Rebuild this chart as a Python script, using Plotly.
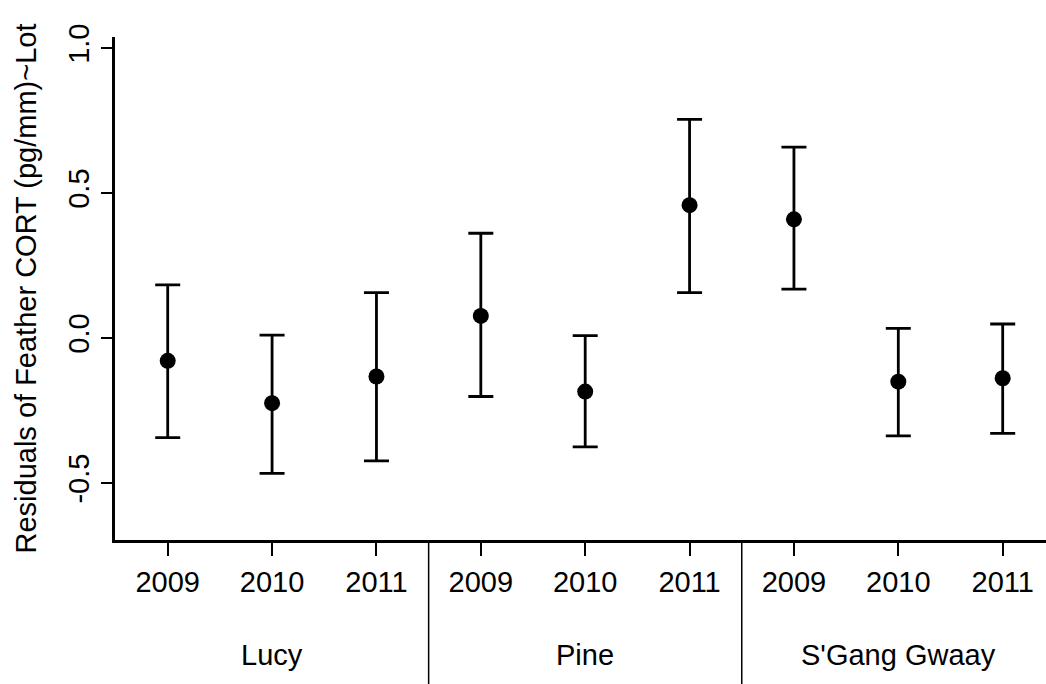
import plotly.graph_objects as go

sites = ["Lucy", "Pine", "S'Gang Gwaay"]
years = ["2009", "2010", "2011"]
means = [-0.079, -0.225, -0.133, 0.076, -0.185, 0.458, 0.409, -0.151, -0.139]
upper = [0.183, 0.010, 0.156, 0.361, 0.008, 0.754, 0.658, 0.033, 0.048]
lower = [-0.344, -0.467, -0.424, -0.202, -0.376, 0.156, 0.168, -0.338, -0.329]
ytick_vals = [-0.5, 0.0, 0.5, 1.0]
ytick_text = ["-0.5", "0.0", "0.5", "1.0"]

n_years = len(years)
xs = list(range(1, len(sites) * n_years + 1))
xlabels = [y for _ in sites for y in years]
err_plus = [u - m for u, m in zip(upper, means)]
err_minus = [m - l for m, l in zip(means, lower)]

FONT = "Liberation Sans, Arial, sans-serif"
W, H = 1046, 684
ml, mr, mt, mb = 115, 0, 37, 144
ph = H - mt - mb

fig = go.Figure()
fig.add_trace(go.Scatter(
    x=xs, y=means, mode="markers",
    marker=dict(color="black", size=16, symbol="circle"),
    error_y=dict(type="data", symmetric=False, array=err_plus, arrayminus=err_minus,
                 color="black", thickness=2.8, width=12.5),
    showlegend=False, cliponaxis=False,
))

# separators between site groups
for k in range(1, len(sites)):
    xsep = k * n_years + 0.5
    fig.add_shape(type="line", xref="x", yref="paper", x0=xsep, x1=xsep,
                  y0=0, y1=-(mb + 5) / ph, line=dict(color="black", width=1.5))

# site labels
for i, s in enumerate(sites):
    fig.add_annotation(x=i * n_years + (n_years + 1) / 2, xref="x",
                       y=-(655 - (H - mb)) / ph, yref="paper",
                       text=s, showarrow=False, yanchor="middle", xanchor="center",
                       font=dict(family=FONT, size=29, color="black"))

# y title
fig.add_annotation(x=-(ml - 25) / (W - ml - mr), xref="paper", y=0.5, yref="paper",
                   text="Residuals of Feather CORT (pg/mm)~Lot", textangle=-90,
                   showarrow=False, xanchor="center", yanchor="middle",
                   font=dict(family=FONT, size=29, color="black"))

fig.update_layout(
    width=W, height=H,
    margin=dict(l=ml, r=mr, t=mt, b=mb),
    plot_bgcolor="white", paper_bgcolor="white",
    font=dict(family=FONT, size=29, color="black"),
    xaxis=dict(range=[0.495, 9.415], tickmode="array", tickvals=xs, ticktext=xlabels,
               showgrid=False, zeroline=False, showline=True, linecolor="black",
               linewidth=3, ticks="outside", ticklen=13, tickwidth=1.5,
               tickcolor="black", ticklabelstandoff=1),
    yaxis=dict(range=[-0.697, 1.038], tickmode="array", tickvals=ytick_vals,
               ticktext=ytick_text, tickangle=-90, showgrid=False, zeroline=False,
               showline=True, linecolor="black", linewidth=3, ticks="outside",
               ticklen=11, tickwidth=2, tickcolor="black"),
)

fig.write_html("out.html", config={"displayModeBar": False},
               post_script="document.body.style.margin='0';document.body.style.overflow='hidden';")
